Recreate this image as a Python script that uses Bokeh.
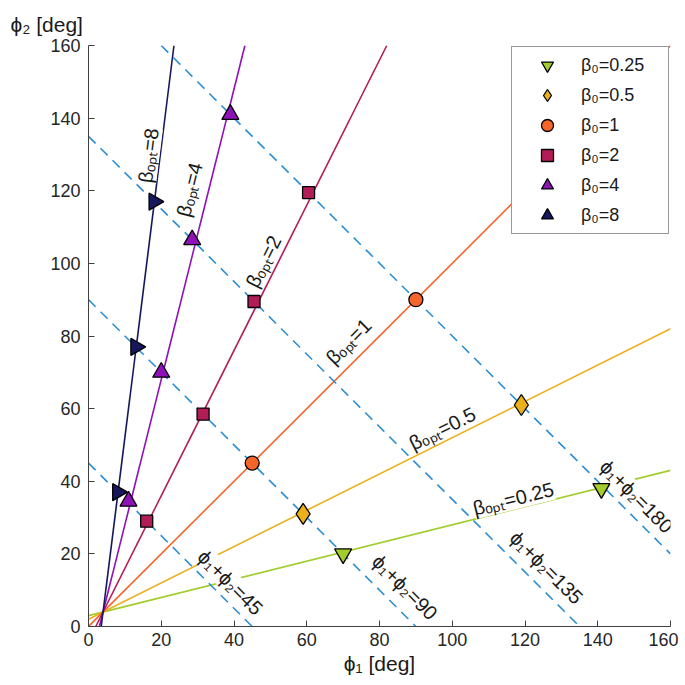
from bokeh.plotting import figure
from bokeh.models import Range1d, Label, Legend, LegendItem, FixedTicker
from bokeh.embed import file_html
from bokeh.resources import INLINE

# ---------------- data ----------------
betas = ["0.25", "0.5", "1", "2", "4", "8"]
colors = ["#a4cc2c", "#ebb01a", "#f6652a", "#b31d57", "#8f12b8", "#16175e"]
markers = ["inverted_triangle", "diamond", "circle", "square", "triangle", "triangle"]

# solid lines (beta_opt) end points
line_x0 = [0, 0, 0, 2, 3, 3.5]
line_y0 = [3, 2, 0, 0, 0, 0]
line_x1 = [160, 160, 160, 82, 43, 23.5]
line_y1 = [43, 82, 160, 160, 160, 160]

# dashed lines phi1 + phi2 = const
sums = [45, 90, 135, 180]
dash_x0 = [0, 0, 0, 20]
dash_y0 = [45, 90, 135, 160]
dash_x1 = [45, 90, 135, 160]
dash_y1 = [0, 0, 0, 20]

# markers for each beta_0
pts_x = [
    [70, 141],
    [59, 119],
    [45, 90],
    [16, 31.5, 45.5, 60.5],
    [11, 20, 28.5, 39],
    [8, 13, 18],
]
pts_y = [
    [20, 38],
    [31, 61],
    [45, 90],
    [29, 58.5, 89.5, 119.5],
    [34.5, 70, 106.5, 141],
    [37, 77, 117],
]

x_ticks = [0, 20, 40, 60, 80, 100, 120, 140, 160]
y_ticks = [0, 20, 40, 60, 80, 100, 120, 140, 160]

# labels
beta_lbl_x = [116.8, 97.3, 71.5, 48.1, 27.8, 16.5]
beta_lbl_y = [35.2, 54.5, 78.5, 100.5, 120.3, 129.7]
beta_lbl_ang = [14, 26.6, 45, 63.4, 76, 82.9]
sum_lbl_x = [39.0, 87.0, 125.9, 150.7]
sum_lbl_y = [12.1, 10.8, 16.2, 35.8]

FONT = "Liberation Sans"
TXT = "#1a1a1a"

p = figure(frame_width=582, frame_height=581,
           x_range=Range1d(0, 160), y_range=Range1d(0, 160),
           output_backend="svg", toolbar_location=None,
           min_border_left=88, min_border_right=8,
           min_border_top=45, min_border_bottom=52,
           title="ϕ₂ [deg]")

p.title.text_font = FONT
p.title.text_font_size = "21px"
p.title.text_font_style = "normal"
p.title.text_color = TXT
p.title.align = "left"
p.title.offset = -78
p.title.standoff = 20

p.grid.visible = False
p.outline_line_color = None
p.background_fill_color = "white"

p.xaxis.ticker = FixedTicker(ticks=x_ticks)
p.yaxis.ticker = FixedTicker(ticks=y_ticks)
for ax in (p.xaxis, p.yaxis):
    ax.major_tick_in = 6
    ax.major_tick_out = 0
    ax.minor_tick_line_color = None
    ax.axis_line_color = "#404040"
    ax.major_tick_line_color = "#404040"
    ax.major_label_text_font = FONT
    ax.major_label_text_font_size = "18px"
    ax.major_label_text_color = "#262626"
    ax.axis_label_text_font = FONT
    ax.axis_label_text_font_size = "21px"
    ax.axis_label_text_font_style = "normal"
    ax.axis_label_text_color = TXT
p.xaxis.axis_label = "ϕ₁ [deg]"
p.xaxis.axis_label_standoff = 3
p.xaxis.major_label_standoff = 6
p.yaxis.major_label_standoff = 8

# solid lines
p.segment(x0=line_x0, y0=line_y0, x1=line_x1, y1=line_y1,
          line_color=colors, line_width=1.6)
# dashed lines
p.segment(x0=dash_x0, y0=dash_y0, x1=dash_x1, y1=dash_y1,
          line_color="#2b8fd4", line_width=1.6, line_dash="10 7")

# labels
for b, x, y, a in zip(betas, beta_lbl_x, beta_lbl_y, beta_lbl_ang):
    p.add_layout(Label(x=x, y=y, text="βₒₚₜ=" + b, angle=a, angle_units="deg",
                       text_align="center", text_baseline="middle",
                       text_font=FONT, text_font_size="20px", text_color=TXT,
                       background_fill_color="white"))
for s, x, y in zip(sums, sum_lbl_x, sum_lbl_y):
    p.add_layout(Label(x=x, y=y, text="ϕ₁+ϕ₂=" + str(s), angle=-45, angle_units="deg",
                       text_align="center", text_baseline="middle",
                       text_font=FONT, text_font_size="20px", text_color=TXT,
                       background_fill_color="white"))

# markers
sizes = [17, 21, 14, 12, 17, 17]
angles = [0, 0, 0, 0, 0, -1.5708]
items = []
for i, b in enumerate(betas):
    r = p.scatter(pts_x[i], pts_y[i], marker=markers[i], size=sizes[i],
                  fill_color=colors[i], line_color="black", line_width=1.3,
                  angle=angles[i])
    r.level = "overlay"
    items.append(LegendItem(label="β₀=" + b, renderers=[r]))

legend = Legend(items=items, location="top_right")
legend.margin = 1
legend.padding = 3
legend.glyph_width = 64
legend.glyph_height = 30
legend.label_height = 21
legend.label_width = 84
legend.label_standoff = 2
legend.spacing = 0
legend.label_text_font = FONT
legend.label_text_font_size = "18px"
legend.label_text_color = TXT
legend.border_line_color = "#333333"
legend.border_line_width = 1
legend.background_fill_alpha = 1
p.add_layout(legend)

open("out.html", "w").write(file_html(p, INLINE))
